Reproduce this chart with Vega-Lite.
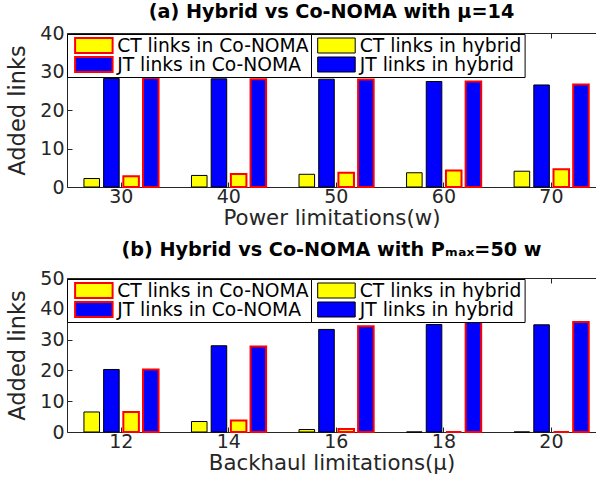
{
  "$schema": "https://vega.github.io/schema/vega-lite/v6.json",
  "background": "white",
  "padding": {"left": 6, "top": 2, "right": 0, "bottom": 0},
  "config": {
    "font": "DejaVu Sans",
    "view": {"stroke": null},
    "concat": {"spacing": 11},
    "axis": {
      "grid": false,
      "domainColor": "#262626",
      "tickColor": "#262626",
      "labelColor": "#262626",
      "titleColor": "#262626",
      "labelFont": "DejaVu Sans",
      "titleFont": "DejaVu Sans",
      "labelFontSize": 19,
      "titleFontSize": 21.3,
      "titleFontWeight": "normal",
      "tickSize": -5,
      "domainWidth": 1
    },
    "axisY": {"titleFontSize": 22.5},
    "legend": {
      "orient": "none", "title": null, "direction": "vertical",
      "symbolType": "M-2.5,-1H2.5V1H-2.5Z", "symbolSize": 225,
      "symbolOffset": 15, "labelOffset": 14, "labelFontSize": 18.7, "labelFont": "DejaVu Sans",
      "labelColor": "black", "labelLimit": 300, "padding": 2.5, "rowPadding": -2, "clipHeight": 18,
      "strokeColor": "black", "fillColor": "white"
    },
    "title": {"font": "DejaVu Sans", "fontSize": 19.2, "fontWeight": "bold", "color": "black", "anchor": "middle", "frame": "group"}
  },
  "resolve": {"scale": {"fill": "independent", "y": "independent", "x": "independent"}, "legend": {"fill": "independent"}},
  "vconcat": [
    {
      "title": {"text": "(a) Hybrid vs Co-NOMA with μ=14", "offset": 2},
      "width": 529,
      "height": 154,
      "data": {"values": [
        {"x": 30, "series": "CT links in hybrid", "value": 2.2},
        {"x": 30, "series": "JT links in hybrid", "value": 28.2},
        {"x": 30, "series": "CT links in Co-NOMA", "value": 2.8},
        {"x": 30, "series": "JT links in Co-NOMA", "value": 28.3},
        {"x": 40, "series": "CT links in hybrid", "value": 3.0},
        {"x": 40, "series": "JT links in hybrid", "value": 28.1},
        {"x": 40, "series": "CT links in Co-NOMA", "value": 3.4},
        {"x": 40, "series": "JT links in Co-NOMA", "value": 28.0},
        {"x": 50, "series": "CT links in hybrid", "value": 3.3},
        {"x": 50, "series": "JT links in hybrid", "value": 28.0},
        {"x": 50, "series": "CT links in Co-NOMA", "value": 3.7},
        {"x": 50, "series": "JT links in Co-NOMA", "value": 27.9},
        {"x": 60, "series": "CT links in hybrid", "value": 3.7},
        {"x": 60, "series": "JT links in hybrid", "value": 27.4},
        {"x": 60, "series": "CT links in Co-NOMA", "value": 4.3},
        {"x": 60, "series": "JT links in Co-NOMA", "value": 27.4},
        {"x": 70, "series": "CT links in hybrid", "value": 4.1},
        {"x": 70, "series": "JT links in hybrid", "value": 26.5},
        {"x": 70, "series": "CT links in Co-NOMA", "value": 4.6},
        {"x": 70, "series": "JT links in Co-NOMA", "value": 26.6}
      ]},
      "encoding": {
        "y": {"field": "value", "type": "quantitative", "scale": {"domain": [0, 40]}, "axis": {"title": "Added links", "values": [0, 10, 20, 30, 40], "labelPadding": 8, "titlePadding": 10, "labelOverlap": false}},
        "xOffset": {"field": "series", "scale": {"domain": ["CT links in hybrid", "JT links in hybrid", "CT links in Co-NOMA", "JT links in Co-NOMA"], "paddingInner": 0.21, "paddingOuter": 0}}
      },
      "resolve": {"scale": {"fill": "independent"}, "legend": {"fill": "independent"}, "axis": {"x": "independent"}},
      "layer": [
        {
          "transform": [{"filter": "indexof(datum.series, 'hybrid') >= 0"}],
          "mark": {"type": "bar", "stroke": "black", "strokeWidth": 1},
          "encoding": {
            "x": {"field": "x", "type": "ordinal", "scale": {"paddingInner": 0.306, "paddingOuter": 0.1125, "align": 0.7}, "axis": {"title": "Power limitations(w)", "labelAngle": 0, "labelPadding": 5.5, "titlePadding": 1}},
            "fill": {"field": "series", "type": "nominal", "scale": {"domain": ["CT links in hybrid", "JT links in hybrid"], "range": ["#FFFF00", "#0000FF"]},
              "legend": {"legendX": 242.6, "legendY": 1, "symbolStrokeColor": "black", "symbolStrokeWidth": 1}}
          }
        },
        {
          "transform": [{"filter": "indexof(datum.series, 'Co-NOMA') >= 0"}],
          "mark": {"type": "bar", "stroke": "#FF0000", "strokeWidth": 2},
          "encoding": {
            "x": {"field": "x", "type": "ordinal", "axis": {"orient": "top", "labels": false, "title": null, "domain": true}},
            "fill": {"field": "series", "type": "nominal", "scale": {"domain": ["CT links in Co-NOMA", "JT links in Co-NOMA"], "range": ["#FFFF00", "#0000FF"]},
              "legend": {"legendX": 0, "legendY": 1, "symbolStrokeColor": "#FF0000", "symbolStrokeWidth": 2}}
          }
        }
      ]
    },
    {
      "title": {"text": "(b) Hybrid vs Co-NOMA with Pₘₐₓ=50 w", "offset": 9},
      "width": 529,
      "height": 154,
      "data": {"values": [
        {"x": 12, "series": "CT links in hybrid", "value": 6.5},
        {"x": 12, "series": "JT links in hybrid", "value": 20.3},
        {"x": 12, "series": "CT links in Co-NOMA", "value": 6.5},
        {"x": 12, "series": "JT links in Co-NOMA", "value": 20.3},
        {"x": 14, "series": "CT links in hybrid", "value": 3.4},
        {"x": 14, "series": "JT links in hybrid", "value": 28.0},
        {"x": 14, "series": "CT links in Co-NOMA", "value": 3.7},
        {"x": 14, "series": "JT links in Co-NOMA", "value": 27.8},
        {"x": 16, "series": "CT links in hybrid", "value": 0.8},
        {"x": 16, "series": "JT links in hybrid", "value": 33.3},
        {"x": 16, "series": "CT links in Co-NOMA", "value": 1.0},
        {"x": 16, "series": "JT links in Co-NOMA", "value": 34.3},
        {"x": 18, "series": "CT links in hybrid", "value": 0},
        {"x": 18, "series": "JT links in hybrid", "value": 34.9},
        {"x": 18, "series": "CT links in Co-NOMA", "value": 0},
        {"x": 18, "series": "JT links in Co-NOMA", "value": 35.7},
        {"x": 20, "series": "CT links in hybrid", "value": 0},
        {"x": 20, "series": "JT links in hybrid", "value": 34.8},
        {"x": 20, "series": "CT links in Co-NOMA", "value": 0},
        {"x": 20, "series": "JT links in Co-NOMA", "value": 35.7}
      ]},
      "encoding": {
        "y": {"field": "value", "type": "quantitative", "scale": {"domain": [0, 50]}, "axis": {"title": "Added links", "values": [0, 10, 20, 30, 40, 50], "labelPadding": 8, "titlePadding": 10, "labelOverlap": false}},
        "xOffset": {"field": "series", "scale": {"domain": ["CT links in hybrid", "JT links in hybrid", "CT links in Co-NOMA", "JT links in Co-NOMA"], "paddingInner": 0.21, "paddingOuter": 0}}
      },
      "resolve": {"scale": {"fill": "independent"}, "legend": {"fill": "independent"}, "axis": {"x": "independent"}},
      "layer": [
        {
          "transform": [{"filter": "indexof(datum.series, 'hybrid') >= 0"}],
          "mark": {"type": "bar", "stroke": "black", "strokeWidth": 1},
          "encoding": {
            "x": {"field": "x", "type": "ordinal", "scale": {"paddingInner": 0.306, "paddingOuter": 0.1125, "align": 0.7}, "axis": {"title": "Backhaul limitations(μ)", "labelAngle": 0, "labelPadding": 5.5, "titlePadding": 1}},
            "fill": {"field": "series", "type": "nominal", "scale": {"domain": ["CT links in hybrid", "JT links in hybrid"], "range": ["#FFFF00", "#0000FF"]},
              "legend": {"legendX": 242.6, "legendY": 1, "symbolStrokeColor": "black", "symbolStrokeWidth": 1}}
          }
        },
        {
          "transform": [{"filter": "indexof(datum.series, 'Co-NOMA') >= 0"}],
          "mark": {"type": "bar", "stroke": "#FF0000", "strokeWidth": 2},
          "encoding": {
            "x": {"field": "x", "type": "ordinal", "axis": {"orient": "top", "labels": false, "title": null, "domain": true}},
            "fill": {"field": "series", "type": "nominal", "scale": {"domain": ["CT links in Co-NOMA", "JT links in Co-NOMA"], "range": ["#FFFF00", "#0000FF"]},
              "legend": {"legendX": 0, "legendY": 1, "symbolStrokeColor": "#FF0000", "symbolStrokeWidth": 2}}
          }
        }
      ]
    }
  ]
}
